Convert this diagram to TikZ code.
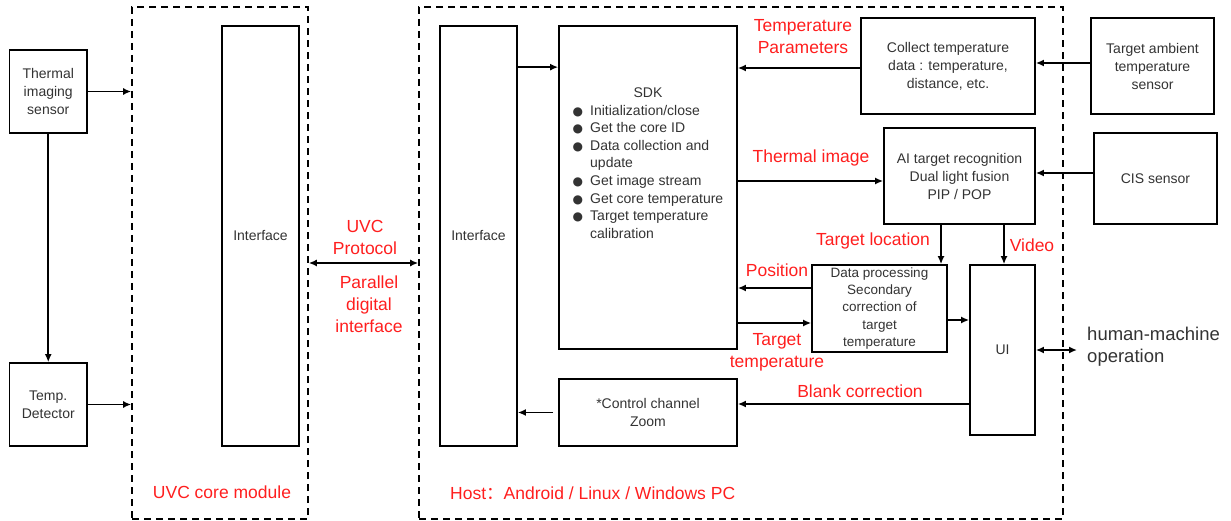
\documentclass[tikz,border=0pt]{standalone}
\usepackage{fontspec}
\setmainfont{Liberation Sans}
\newfontfamily\cjk{Noto Sans CJK SC}
\newfontfamily\dotfont{DejaVu Sans}
\usetikzlibrary{arrows.meta}
\definecolor{lblred}{RGB}{255,30,30}
\definecolor{boxtext}{RGB}{51,51,51}
\newcommand{\sdkdot}{{\dotfont\fontsize{12}{12}\selectfont ●}}

\begin{document}
\begin{tikzpicture}[x=1pt,y=-1pt,
  blk/.style={draw, line width=1.7pt, inner sep=2pt, align=center, text=boxtext, font=\fontsize{14}{18}\selectfont},
  region/.style={draw, line width=1.6pt, dash pattern=on 7pt off 5pt},
  lbl/.style={text=lblred, align=center, inner sep=0pt, font=\fontsize{17.5}{22}\selectfont},
  arr/.style={line width=1.7pt, -{Latex[length=8pt,width=7pt]}},
  darr/.style={line width=1.7pt, {Latex[length=8pt,width=7pt]}-{Latex[length=8pt,width=7pt]}}]
\useasboundingbox (0,0) rectangle (1231,521);

% module outlines
\node[region, minimum width=176, minimum height=512] (core) at (220,263) {};
\node[region, minimum width=644, minimum height=512] (host) at (741,263) {};
\node[lbl] (corelbl) at (222,492) {UVC core module};
\node[lbl, anchor=west] (hostlbl) at (450,493) {Host{\cjk ：}Android / Linux / Windows PC};

% sensors
\node[blk, minimum width=77.5, minimum height=83] (thermal) at (48.25,91.5) {Thermal\\imaging\\sensor};
\node[blk, minimum width=77.5, minimum height=83] (tempdet) at (48.25,404.5) {Temp.\\Detector};

% interfaces
\node[blk, minimum width=77, minimum height=420] (coreif) at (260.5,236) {Interface};
\node[blk, minimum width=77, minimum height=420] (hostif) at (478.5,236) {Interface};

% host side blocks
\node[blk, minimum width=178, minimum height=323] (sdk) at (648,187.5) {};
\node[anchor=north, inner sep=0pt, text=boxtext, font=\fontsize{14}{17.6}\selectfont] (sdklist) at (648,85) {%
\begin{tabular}{@{}c@{\hspace{7pt}}l@{}}
\multicolumn{2}{c}{SDK}\\
\sdkdot & Initialization/close\\
\sdkdot & Get the core ID\\
\sdkdot & Data collection and\\
        & update\\
\sdkdot & Get image stream\\
\sdkdot & Get core temperature\\
\sdkdot & Target temperature\\
        & calibration
\end{tabular}};
\node[blk, minimum width=178, minimum height=67] (ctrl) at (648,412.5) {*Control channel\\Zoom};
\node[blk, minimum width=174, minimum height=96] (collect) at (948,66) {Collect temperature\\data : temperature,\\distance, etc.};
\node[blk, minimum width=151, minimum height=96] (ai) at (959.5,176) {AI target recognition\\Dual light fusion\\PIP / POP};
\node[blk, minimum width=135, minimum height=87, font=\fontsize{13.5}{17.3}\selectfont] (proc) at (879.5,308.5) {Data processing\\Secondary\\correction of\\target\\temperature};
\node[blk, minimum width=65, minimum height=170] (ui) at (1002.5,350) {UI};

% external sensors
\node[blk, minimum width=123, minimum height=96] (ambient) at (1152.5,66) {Target ambient\\temperature\\sensor};
\node[blk, minimum width=123, minimum height=91] (cis) at (1155.5,178.5) {CIS sensor};

\coordinate (hmiend) at (1077,350);
\node[anchor=west, align=left, inner sep=0pt, text=boxtext, font=\fontsize{18.5}{22}\selectfont] (hmi) at (1087,347) {human-machine\\operation};

% red labels
\node[lbl] (uvcp) at (365,237.5) {UVC\\Protocol};
\node[lbl] (pdi) at (369,304.5) {Parallel\\digital\\interface};
\node[lbl] (tparam) at (803,37) {Temperature\\Parameters};
\node[lbl] (timg) at (811,158) {Thermal image};
\node[lbl] (tloc) at (873,241) {Target location};
\node[lbl] (video) at (1032,245) {Video};
\node[lbl] (pos) at (777,270) {Position};
\node[lbl] (ttemp) at (777,352) {Target\\temperature};
\node[lbl] (blank) at (860,391) {Blank correction};

% connections
\draw[arr] (thermal.east) -- (thermal.east -| core.west);
\draw[arr] (thermal.south) -- (tempdet.north);
\draw[arr] (tempdet.east) -- (tempdet.east -| core.west);
\draw[darr] (core.east) -- (host.west);

\draw[arr] ([yshift=-42pt]hostif.north east) -- ([yshift=-42pt]sdk.north west);
\draw[arr] ([yshift=-2pt]collect.west) -- ([yshift=-2pt]collect.west -| sdk.east);
\draw[arr] ([yshift=3pt]ambient.west) -- ([yshift=3pt]ambient.west -| collect.east);
\draw[arr] ([yshift=-5pt]ai.west -| sdk.east) -- ([yshift=-5pt]ai.west);
\draw[arr] ([yshift=5.5pt]cis.west) -- ([yshift=5.5pt]cis.west -| ai.east);
\draw[arr] ([xshift=-18.5pt]ai.south) -- ([xshift=-18.5pt]ai.south |- proc.north);
\draw[arr] ([xshift=44.5pt]ai.south) -- ([xshift=44.5pt]ai.south |- ui.north);
\draw[arr] ([yshift=20.5pt]proc.west) -- ([yshift=20.5pt]proc.west -| sdk.east);
\draw[arr] ([yshift=-14.5pt]proc.west -| sdk.east) -- ([yshift=-14.5pt]proc.west);
\draw[arr] ([yshift=-11.5pt]proc.east) -- ([yshift=-11.5pt]proc.east -| ui.west);
\draw[arr] ([yshift=-54pt]ui.west) -- ([yshift=-54pt]ui.west -| ctrl.east);
\draw[arr] ([xshift=-5pt]ctrl.west) -- (ctrl.west -| hostif.east);
\draw[darr] (ui.east) -- (hmiend);

\end{tikzpicture}
\end{document}
